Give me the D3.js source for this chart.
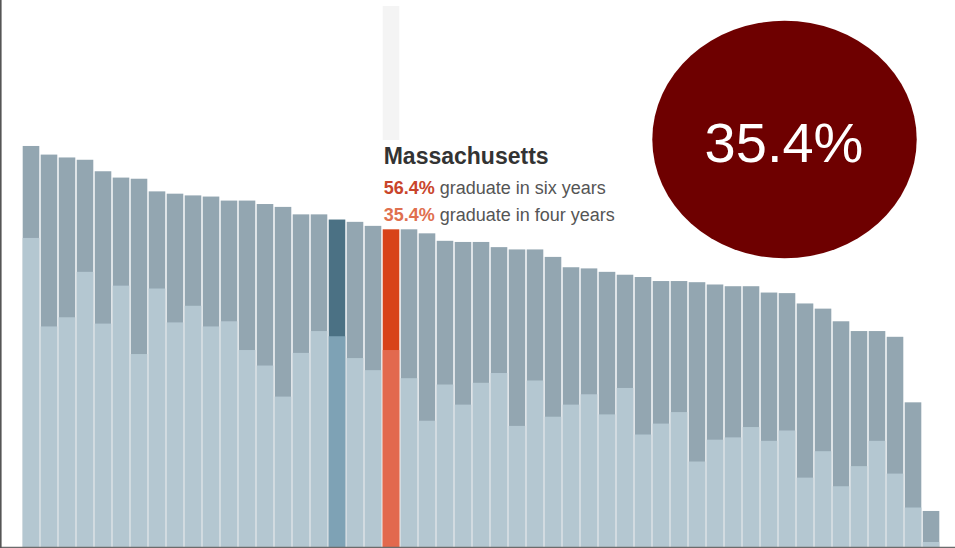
<!DOCTYPE html>
<html>
<head>
<meta charset="utf-8">
<script src="https://cdn.jsdelivr.net/npm/d3@7"></script>
<style>
  body { margin: 0; background: #fff; }
  svg { display: block; font-family: "Liberation Sans", Arial, Helvetica, sans-serif; }
</style>
</head>
<body>
<div id="chart"></div>
<script>
// graduation rates by state, sorted by six-year rate (only Massachusetts is named in the picture)
var states = [];
for (var i = 0; i < 51; i++) states.push("State " + (i + 1));
states[20] = "Massachusetts";

var sixYear = [70.9, 69.4, 68.9, 68.5, 66.5, 65.4, 65.2, 63.0, 62.6, 62.3,
               62.1, 61.4, 61.4, 60.8, 60.3, 59.0, 59.0, 58.1, 57.7, 57.0,
               56.4, 56.4, 55.7, 54.4, 54.2, 54.2, 53.3, 52.9, 52.9, 51.6,
               49.8, 49.6, 49.0, 48.5, 48.1, 47.4, 47.4, 47.2, 46.8, 46.5,
               46.5, 45.4, 45.3, 43.5, 42.6, 40.4, 38.7, 38.7, 37.7, 26.3,
               7.4];
var fourYear = [54.9, 39.5, 41.1, 49.0, 40.0, 46.6, 34.7, 46.1, 40.2, 43.1,
                39.5, 40.4, 35.4, 32.7, 27.3, 34.9, 38.7, 37.8, 34.0, 31.9,
                35.4, 30.5, 23.1, 29.4, 25.9, 29.7, 31.4, 22.2, 30.1, 23.8,
                25.9, 27.7, 24.2, 28.8, 20.7, 22.6, 24.6, 16.0, 19.8, 20.2,
                22.0, 19.6, 21.4, 13.2, 17.8, 11.7, 15.2, 19.6, 13.9, 8.0,
                2.0];

var selected = "Massachusetts";
var hovered = 17;          // darker blue bar left of the selection
var bubbleText = "35.4%";

var width = 955, height = 548, bottom = 547;

var svg = d3.select("#chart").append("svg")
    .attr("width", width)
    .attr("height", height);

var x = d3.scaleBand()
    .domain(states)
    .range([22.7, 939.3])
    .paddingInner(0.078)
    .paddingOuter(0);

var y = d3.scaleLinear()
    .domain([0, 100])
    .range([553.5, -21.3]);

var selIndex = states.indexOf(selected);

// light column behind the selected state
svg.append("rect")
    .attr("x", x(selected))
    .attr("y", 6)
    .attr("width", x.bandwidth())
    .attr("height", 134)
    .style("fill", "#f4f4f4");

function topColor(d, i) {
    if (i == selIndex) return "#d8431a";
    if (i == hovered) return "#4b7184";
    return "#93a6b1";
}
function lowColor(d, i) {
    if (i == selIndex) return "#e2694e";
    if (i == hovered) return "#7ea2b5";
    return "#b4c7d1";
}

var bars = svg.append("g").attr("class", "bars");

bars.selectAll()
    .data(sixYear)
    .enter().append("rect")
    .attr("x", function(d, i) { return x(states[i]); })
    .attr("y", function(d) { return y(d); })
    .attr("width", x.bandwidth())
    .attr("height", function(d) { return bottom - y(d); })
    .style("fill", topColor);

bars.selectAll()
    .data(fourYear)
    .enter().append("rect")
    .attr("x", function(d, i) { return x(states[i]); })
    .attr("y", function(d) { return y(d); })
    .attr("width", x.bandwidth())
    .attr("height", function(d) { return bottom - y(d); })
    .style("fill", lowColor);

// baseline and left frame
svg.append("line")
    .attr("x1", 0).attr("x2", width)
    .attr("y1", 547.5).attr("y2", 547.5)
    .style("stroke", "#6b6b6b")
    .style("stroke-width", 1.6);

svg.append("line")
    .attr("x1", 0.8).attr("x2", 0.8)
    .attr("y1", 0).attr("y2", height)
    .style("stroke", "#555")
    .style("stroke-width", 1.6);

// tooltip
var tx = x(selected) + 1;
var tip = svg.append("g").attr("class", "tooltip");

tip.append("text")
    .attr("x", tx).attr("y", 164)
    .style("font-size", "23px")
    .style("font-weight", "bold")
    .style("fill", "#333")
    .text(selected);

var line1 = tip.append("text")
    .attr("x", tx).attr("y", 194)
    .style("font-size", "18px")
    .style("fill", "#555");
line1.append("tspan")
    .style("font-weight", "bold")
    .style("fill", "#c9452b")
    .text(sixYear[selIndex].toFixed(1) + "%");
line1.append("tspan").text(" graduate in six years");

var line2 = tip.append("text")
    .attr("x", tx).attr("y", 220.5)
    .style("font-size", "18px")
    .style("fill", "#555");
line2.append("tspan")
    .style("font-weight", "bold")
    .style("fill", "#e0704f")
    .text(fourYear[selIndex].toFixed(1) + "%");
line2.append("tspan").text(" graduate in four years");

// big red bubble
svg.append("ellipse")
    .attr("cx", 784.5)
    .attr("cy", 139.5)
    .attr("rx", 132.2)
    .attr("ry", 118.8)
    .style("fill", "#6e0000");

svg.append("text")
    .attr("x", 784)
    .attr("y", 161.5)
    .attr("text-anchor", "middle")
    .style("font-size", "56px")
    .style("fill", "#fff")
    .text(bubbleText);
</script>
</body>
</html>
